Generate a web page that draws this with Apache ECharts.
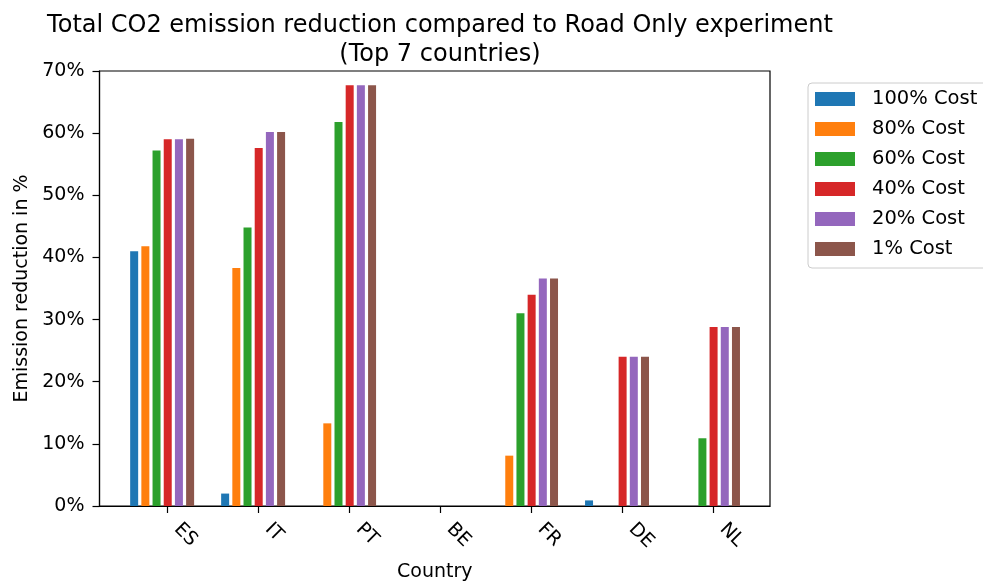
<!DOCTYPE html>
<html>
<head>
<meta charset="utf-8">
<script src="https://cdn.jsdelivr.net/npm/echarts@6/dist/echarts.min.js"></script>
<style>
  html, body { margin: 0; padding: 0; background: #fff; }
  #chart { width: 983px; height: 582px; }
</style>
</head>
<body>
<div id="chart"></div>
<script>
// Countries along the x axis (one group of bars each)
const countries = ['ES', 'IT', 'PT', 'BE', 'FR', 'DE', 'NL'];

// Emission reduction (%) per cost scenario, in country order
const cost100 = [41.0, 2.0, 0.0, 0.0, 0.0, 0.9, 0.0];
const cost80  = [41.8, 38.3, 13.3, 0.0, 8.1, 0.0, 0.0];
const cost60  = [57.2, 44.8, 61.8, 0.0, 31.0, 0.0, 10.9];
const cost40  = [59.0, 57.6, 67.7, 0.0, 34.0, 24.0, 28.8];
const cost20  = [59.0, 60.2, 67.7, 0.0, 36.6, 24.0, 28.8];
const cost1   = [59.1, 60.2, 67.7, 0.0, 36.6, 24.0, 28.8];

const seriesNames = ['100% Cost', '80% Cost', '60% Cost', '40% Cost', '20% Cost', '1% Cost'];
const seriesValues = [cost100, cost80, cost60, cost40, cost20, cost1];
const colors = ['#1f77b4', '#ff7f0e', '#2ca02c', '#d62728', '#9467bd', '#8c564b'];

// Y axis ticks
const yTicks = [0, 10, 20, 30, 40, 50, 60, 70];

// Each bar sits at the country position shifted by its slot within the group
const slotWidth = 0.123;
const countryIdx = countries.map((_, i) => i);

const FONT = 'DejaVu Sans';
const LABEL_SIZE = 19;

const series = seriesValues.map((vals, s) => ({
  name: seriesNames[s],
  type: 'bar',
  barWidth: 8,
  barGap: '-100%',
  itemStyle: { color: colors[s] },
  data: vals.map((v, i) => [i + (s - 3) * slotWidth, v])
}));

const chart = echarts.init(document.getElementById('chart'), null, { renderer: 'canvas' });
chart.setOption({
  animation: false,
  backgroundColor: '#fff',
  textStyle: { fontFamily: FONT, color: '#000' },
  title: {
    text: 'Total CO2 emission reduction compared to Road Only experiment\n(Top 7 countries)',
    left: 435,
    top: 7,
    textAlign: 'center',
    textStyle: { fontFamily: FONT, fontSize: 24, fontWeight: 'normal', color: '#000', lineHeight: 28.5 }
  },
  legend: {
    orient: 'vertical',
    left: 808,
    top: 83,
    itemWidth: 40,
    itemHeight: 14,
    itemGap: 8,
    padding: [5, 40, 8, 7],
    borderColor: '#cccccc',
    borderWidth: 1,
    borderRadius: 4,
    icon: 'rect',
    data: seriesNames,
    textStyle: { fontFamily: FONT, fontSize: 19.5, color: '#000', padding: [0, 0, 0, 12], lineHeight: 22 }
  },
  grid: {
    left: 99.5,
    top: 71,
    width: 670.5,
    height: 435,
    outerBoundsMode: 'none',
    containLabel: false,
    show: true,
    borderColor: '#000',
    borderWidth: 1.2,
    backgroundColor: 'transparent'
  },
  xAxis: {
    type: 'value',
    min: -0.75,
    max: 6.62,
    name: 'Country',
    nameLocation: 'middle',
    nameGap: 57,
    nameTextStyle: { fontFamily: FONT, fontSize: LABEL_SIZE, color: '#000' },
    axisLine: { show: true, onZero: false, lineStyle: { color: '#000', width: 1.2 } },
    axisTick: { show: true, length: 7, customValues: countryIdx, lineStyle: { color: '#000', width: 1.2 } },
    axisLabel: {
      customValues: countryIdx,
      formatter: v => countries[Math.round(v)],
      rotate: -45,
      margin: 11,
      padding: [0, 0, 0, 13],
      fontFamily: FONT,
      fontSize: LABEL_SIZE,
      color: '#000'
    },
    splitLine: { show: false }
  },
  yAxis: {
    type: 'value',
    min: yTicks[0],
    max: yTicks[yTicks.length - 1],
    interval: 10,
    name: 'Emission reduction in %',
    nameLocation: 'middle',
    nameGap: 66,
    nameTextStyle: { fontFamily: FONT, fontSize: LABEL_SIZE, color: '#000' },
    axisLine: { show: true, onZero: false, lineStyle: { color: '#000', width: 1.2 } },
    axisTick: { show: true, length: 7, lineStyle: { color: '#000', width: 1.2 } },
    axisLabel: { formatter: '{value}%', margin: 15, fontFamily: FONT, fontSize: LABEL_SIZE, color: '#000' },
    splitLine: { show: false }
  },
  series: series
});
</script>
</body>
</html>
